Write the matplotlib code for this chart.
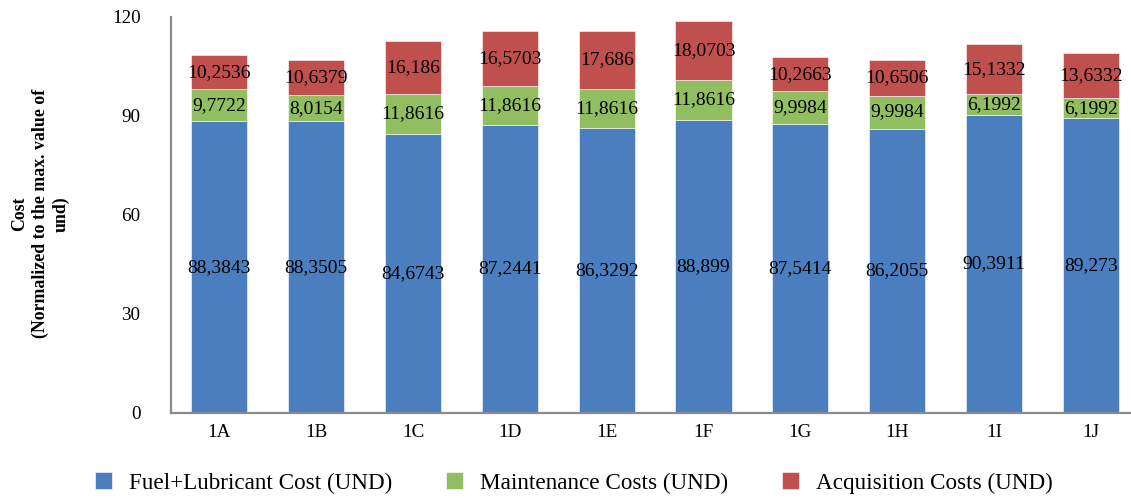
import numpy as np
import matplotlib.pyplot as plt

plt.rcParams['font.family'] = ['Liberation Serif', 'DejaVu Serif']

categories = ['1A', '1B', '1C', '1D', '1E', '1F', '1G', '1H', '1I', '1J']
fuel = [88.3843, 88.3505, 84.6743, 87.2441, 86.3292, 88.899, 87.5414, 86.2055, 90.3911, 89.273]
maintenance = [9.7722, 8.0154, 11.8616, 11.8616, 11.8616, 11.8616, 9.9984, 9.9984, 6.1992, 6.1992]
acquisition = [10.2536, 10.6379, 16.186, 16.5703, 17.686, 18.0703, 10.2663, 10.6506, 15.1332, 13.6332]

series = [
    ('Fuel+Lubricant Cost (UND)', fuel, '#4A7EBF'),
    ('Maintenance Costs (UND)', maintenance, '#92BE62'),
    ('Acquisition Costs (UND)', acquisition, '#C0504D'),
]

fig = plt.figure(figsize=(11.31, 4.98), dpi=100)
ax = fig.add_axes([0.1512, 0.1707, 0.856, 0.7952])

x = np.arange(len(categories))
bottom = np.zeros(len(categories))
for name, vals, col in series:
    vals = np.array(vals)
    bars = ax.bar(x, vals, 0.58, bottom=bottom, color=col, label=name,
                  edgecolor='white', linewidth=0.4)
    labels = [str(v).replace('.', ',') for v in vals]
    ax.bar_label(bars, labels=labels, label_type='center', fontsize=14, color='black')
    bottom += vals

ax.set_xlim(-0.5, len(categories) - 0.5)
ax.set_ylim(0, 120)
ax.set_yticks([0, 30, 60, 90, 120])
ax.set_xticks(x)
ax.set_xticklabels(categories)
ax.tick_params(axis='y', length=0, pad=22, labelsize=13.8)
ax.tick_params(axis='x', length=0, pad=8, labelsize=13.8)

for s in ['top', 'right']:
    ax.spines[s].set_visible(False)
for s in ['left', 'bottom']:
    ax.spines[s].set_color('#8A8A8A')
    ax.spines[s].set_linewidth(1.6)

fig.text(0.036, 0.5707, 'Cost\n(Normalized to the max. value of\nund)', rotation=90,
         ha='center', va='center', fontsize=12.8, fontweight='bold',
         multialignment='center', linespacing=1.25)

fig.legend(loc='center', bbox_to_anchor=(0.5075, 0.030), ncol=3, frameon=False,
           fontsize=16.7, handlelength=0.72, handleheight=0.72, handletextpad=0.76,
           columnspacing=2.3)

fig.savefig('out.png', dpi=100)
